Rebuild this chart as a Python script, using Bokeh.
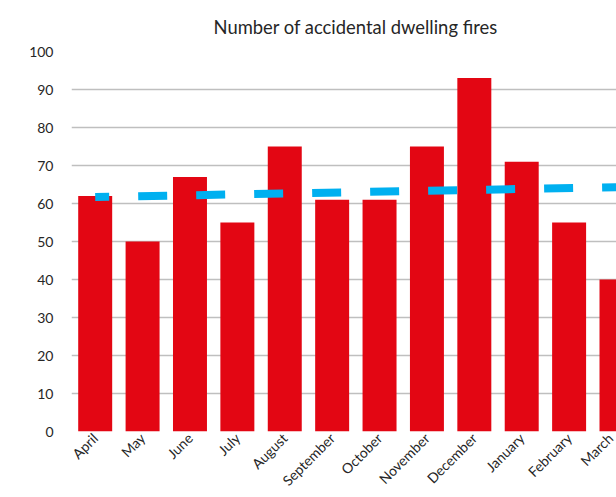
from bokeh.plotting import figure
from bokeh.models import Range1d, FixedTicker, ColumnDataSource, Title
from bokeh.embed import file_html
from bokeh.resources import INLINE
import math

months = ["April", "May", "June", "July", "August", "September", "October",
          "November", "December", "January", "February", "March"]
fires = [62, 50, 67, 55, 75, 61, 61, 75, 93, 71, 55, 40]
# trend line (start at April, end at March)
trend_months = ["April", "March"]
trend_values = [61.7, 64.3]
y_ticks = [0, 10, 20, 30, 40, 50, 60, 70, 80, 90, 100]

FONT = "Lato"
TXT = "#262626"

xs = list(range(len(months)))
src = ColumnDataSource(dict(x=xs, y=fires, m=months))

p = figure(width=616, height=497, output_backend="svg", toolbar_location=None,
           x_range=Range1d(-0.5, len(months) - 1), y_range=Range1d(0, 100),
           min_border_left=71, min_border_right=0, min_border_top=51,
           min_border_bottom=66)
p.outline_line_color = None
p.background_fill_color = "white"
p.border_fill_color = "white"

p.title = Title(text="Number of accidental dwelling fires", align="left", offset=142,
                text_font=FONT, text_font_size="18.4px", text_font_style="normal",
                text_color=TXT, standoff=27)

p.vbar(x="x", top="y", width=0.717, source=src, fill_color="#e30613",
       line_color=None)

tx = [months.index(m) for m in trend_months]
p.line(tx, trend_values, line_color="#00b0f0", line_width=8, line_dash="29 29",
       line_dash_offset=15, line_cap="butt")

p.xaxis.ticker = FixedTicker(ticks=xs)
p.xaxis.major_label_overrides = {i: m for i, m in enumerate(months)}
p.xaxis.major_label_orientation = math.pi / 4
p.yaxis.ticker = FixedTicker(ticks=y_ticks)

for ax in (p.xaxis, p.yaxis):
    ax.axis_line_color = None
    ax.major_tick_line_color = None
    ax.minor_tick_line_color = None
    ax.major_tick_out = 0
    ax.major_tick_in = 0
    ax.minor_tick_out = 0
    ax.major_label_text_font = FONT
    ax.major_label_text_color = TXT
    ax.major_label_text_font_size = "14px"
p.yaxis.major_label_standoff = 18
p.xaxis.major_label_standoff = 4

p.xgrid.grid_line_color = None
p.ygrid.grid_line_color = "#bfbfbf"
p.ygrid.grid_line_width = 1.5

open("out.html", "w").write(file_html(p, INLINE))
